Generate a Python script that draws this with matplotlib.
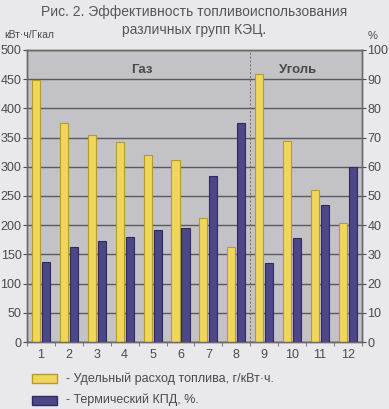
import numpy as np
import matplotlib
matplotlib.use("Agg")
import matplotlib.pyplot as plt
from matplotlib.patches import Rectangle

# data
groups = ['1', '2', '3', '4', '5', '6', '7', '8', '9', '10', '11', '12']
fuel_rate = [448, 375, 355, 342, 320, 312, 213, 163, 459, 344, 260, 204]   # г/кВт·ч (left axis)
thermal_eff = [27.5, 32.5, 34.5, 36, 38.5, 39, 57, 75, 27, 35.5, 47, 60]    # % (right axis)

YELLOW = '#efd65c'
YELLOW_EDGE = '#b89a2c'
BLUE = '#4d4787'
BLUE_EDGE = '#2e2960'
TXT = '#4a4a4a'

plt.rcParams['font.family'] = ['Liberation Sans', 'DejaVu Sans']

fig = plt.figure(figsize=(3.89, 4.09), dpi=100)
fig.patch.set_facecolor('#e9e8eb')

ax = fig.add_axes([0.0694, 0.1638, 0.861, 0.714])
ax.set_facecolor('#c3c2c7')

x = np.arange(len(groups)) + 1
w = 0.29
ax.bar(x - 0.18, fuel_rate, width=w, color=YELLOW, edgecolor=YELLOW_EDGE, linewidth=0.8, zorder=3)

ax2 = ax.twinx()
ax2.bar(x + 0.18, thermal_eff, width=w, color=BLUE, edgecolor=BLUE_EDGE, linewidth=0.8, zorder=3)

ax.set_xlim(0.5, 12.5)
ax.set_ylim(0, 500)
ax2.set_ylim(0, 100)
ax.set_yticks(np.arange(0, 501, 50))
ax2.set_yticks(np.arange(0, 101, 10))
ax.set_xticks(x)
ax.set_xticklabels(groups)
ax.set_xticks(np.arange(0.5, 12.6, 1), minor=True)

ax.grid(axis='y', color='#5a5a5a', linewidth=1.0, zorder=1)
ax.set_axisbelow(True)
ax.axvline(8.5, color='#6a6a6a', linewidth=0.7, linestyle=(0, (2, 2)), zorder=2)

for a in (ax, ax2):
    for s in a.spines.values():
        s.set_color('#6a6a6a')
        s.set_linewidth(1.0)
    a.tick_params(colors=TXT, labelsize=9, length=3, width=0.8)
ax.tick_params(axis='x', which='major', length=0, pad=5)
ax.tick_params(axis='x', which='minor', length=3, color='#6a6a6a')
ax.tick_params(axis='y', pad=1)
ax2.tick_params(axis='y', pad=1)

ax.text(4.6, 465, 'Газ', ha='center', va='center', fontsize=9.5, fontweight='bold', color=TXT, zorder=4)
ax.text(10.2, 465, 'Уголь', ha='center', va='center', fontsize=9.5, fontweight='bold', color=TXT, zorder=4)

fig.text(0.5, 0.97, 'Рис. 2. Эффективность топливоиспользования', ha='center', va='center',
         fontsize=10, color='#555555')
fig.text(0.5, 0.927, 'различных групп КЭЦ.', ha='center', va='center', fontsize=10, color='#555555')
fig.text(0.01, 0.914, 'кВт·ч/Гкал', ha='left', va='center', fontsize=7.5, color=TXT)
fig.text(0.945, 0.912, '%', ha='left', va='center', fontsize=8, color=TXT)

# legend drawn as patches with text
fig.patches.append(Rectangle((0.082, 0.063), 0.064, 0.022, transform=fig.transFigure,
                             facecolor=YELLOW, edgecolor=YELLOW_EDGE, linewidth=1))
fig.text(0.17, 0.074, '- Удельный расход топлива, г/кВт·ч.', ha='left', va='center', fontsize=9, color=TXT)
fig.patches.append(Rectangle((0.082, 0.011), 0.064, 0.022, transform=fig.transFigure,
                             facecolor=BLUE, edgecolor=BLUE_EDGE, linewidth=1))
fig.text(0.17, 0.022, '- Термический КПД, %.', ha='left', va='center', fontsize=9, color=TXT)

fig.savefig('out.png', dpi=100, facecolor=fig.get_facecolor())
